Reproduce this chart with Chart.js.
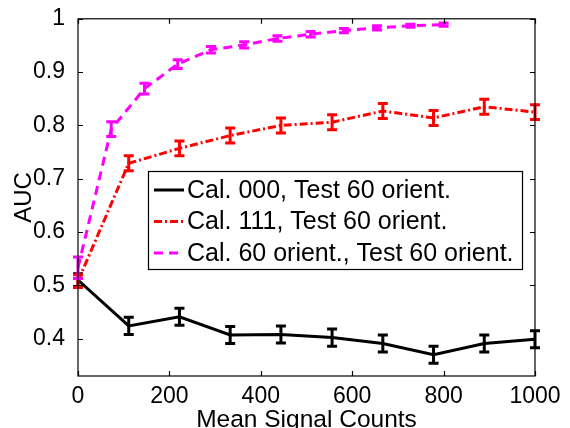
<!DOCTYPE html>
<html>
<head>
<meta charset="utf-8">
<script src="https://cdn.jsdelivr.net/npm/chart.js@4.4.1/dist/chart.umd.min.js"></script>
<style>
  html, body { margin: 0; padding: 0; background: #fff; }
  #wrap { width: 570px; height: 428px; position: relative; }
</style>
</head>
<body>
<div id="wrap"><canvas id="auc"></canvas></div>
<script>
// values
const legendLabels = [
  'Cal. 000, Test 60 orient.',
  'Cal. 111, Test 60 orient.',
  'Cal. 60 orient., Test 60 orient.'
];
const countsA = [0, 111, 222, 333, 444, 556, 667, 778, 889, 1000];
const aucCal000 = [0.51, 0.424, 0.441, 0.407, 0.408, 0.402, 0.391, 0.370, 0.391, 0.399];
const errCal000 = [0.012, 0.016, 0.016, 0.016, 0.016, 0.016, 0.016, 0.016, 0.016, 0.016];
const aucCal111 = [0.508, 0.729, 0.757, 0.781, 0.800, 0.806, 0.827, 0.814, 0.835, 0.825];
const errCal111 = [0.012, 0.014, 0.014, 0.014, 0.014, 0.014, 0.014, 0.014, 0.014, 0.014];
const countsB = [0, 72.7, 145.5, 218.2, 290.9, 363.6, 436.4, 509.1, 581.8, 654.5, 727.3, 800];
const aucCal60 = [0.533, 0.793, 0.869, 0.915, 0.942, 0.951, 0.963, 0.971, 0.978, 0.983, 0.987, 0.989];
const errCal60 = [0.02, 0.014, 0.01, 0.008, 0.006, 0.006, 0.005, 0.005, 0.004, 0.004, 0.003, 0.003];
const xTicks = [0, 200, 400, 600, 800, 1000];
const yTicks = [0.4, 0.5, 0.6, 0.7, 0.8, 0.9, 1];

const FONT = '"Liberation Sans", Arial, Helvetica, sans-serif';

function pts(xs, ys) {
  return xs.map((x, i) => ({ x: x, y: ys[i] }));
}

const errorBars = {
  id: 'errorBars',
  afterDatasetsDraw(chart) {
    const ctx = chart.ctx;
    const xs = chart.scales.x, ys = chart.scales.y;
    [...chart.data.datasets]
      .sort((a, b) => b.order - a.order)
      .forEach((ds) => {
        ctx.save();
        ctx.strokeStyle = ds.borderColor;
        ctx.lineWidth = 3;
        ctx.setLineDash([]);
        ds.data.forEach((p, j) => {
          const e = ds.errors[j];
          const px = xs.getPixelForValue(p.x);
          const y1 = ys.getPixelForValue(p.y - e);
          const y2 = ys.getPixelForValue(p.y + e);
          ctx.beginPath();
          ctx.moveTo(px, y1); ctx.lineTo(px, y2);
          ctx.moveTo(px - 5, y1); ctx.lineTo(px + 5, y1);
          ctx.moveTo(px - 5, y2); ctx.lineTo(px + 5, y2);
          ctx.stroke();
        });
        ctx.restore();
      });
  }
};

const frameAndLegend = {
  id: 'frameAndLegend',
  afterDraw(chart) {
    const ctx = chart.ctx;
    const a = chart.chartArea;
    const xs = chart.scales.x, ys = chart.scales.y;
    ctx.save();
    ctx.strokeStyle = '#000';
    ctx.lineWidth = 1.2;
    ctx.setLineDash([]);
    ctx.strokeRect(a.left, a.top, a.right - a.left, a.bottom - a.top);
    ctx.beginPath();
    xTicks.forEach((v) => {
      const px = Math.round(xs.getPixelForValue(v)) + 0.5;
      ctx.moveTo(px, a.bottom); ctx.lineTo(px, a.bottom - 5);
      ctx.moveTo(px, a.top); ctx.lineTo(px, a.top + 5);
    });
    yTicks.forEach((v) => {
      const py = Math.round(ys.getPixelForValue(v)) + 0.5;
      ctx.moveTo(a.left, py); ctx.lineTo(a.left + 5, py);
      ctx.moveTo(a.right, py); ctx.lineTo(a.right - 5, py);
    });
    ctx.stroke();

    // legend box
    const bx = 148, by = 171, bw = 374, bh = 98;
    ctx.fillStyle = '#fff';
    ctx.fillRect(bx, by, bw, bh);
    ctx.lineWidth = 1.2;
    ctx.strokeRect(bx + 0.5, by + 0.5, bw, bh);
    ctx.font = '25px ' + FONT;
    ctx.textBaseline = 'middle';
    chart.data.datasets.forEach((ds, i) => {
      const ry = by + 19 + i * 31.5;
      ctx.strokeStyle = ds.borderColor;
      ctx.lineWidth = 3;
      ctx.setLineDash(ds.borderDash || []);
      ctx.beginPath();
      ctx.moveTo(bx + 6, ry); ctx.lineTo(bx + 36, ry);
      ctx.stroke();
      ctx.setLineDash([]);
      ctx.fillStyle = '#000';
      ctx.fillText(legendLabels[i], bx + 39, ry + 1);
    });
    ctx.restore();
  }
};

new Chart(document.getElementById('auc'), {
  type: 'line',
  data: {
    datasets: [
      {
        label: legendLabels[0],
        data: pts(countsA, aucCal000),
        errors: errCal000,
        borderColor: '#000000',
        borderWidth: 3,
        order: 3
      },
      {
        label: legendLabels[1],
        data: pts(countsA, aucCal111),
        errors: errCal111,
        borderColor: '#ff0000',
        borderWidth: 3,
        borderDash: [8, 3, 2, 3],
        order: 2
      },
      {
        label: legendLabels[2],
        data: pts(countsB, aucCal60),
        errors: errCal60,
        borderColor: '#ff00ff',
        borderWidth: 3,
        borderDash: [9, 6],
        order: 1
      }
    ]
  },
  options: {
    responsive: true,
    maintainAspectRatio: false,
    animation: false,
    layout: { padding: { top: 16, right: 35, left: 0, bottom: 0 } },
    elements: { point: { radius: 0 }, line: { tension: 0 } },
    plugins: { legend: { display: false }, tooltip: { enabled: false } },
    scales: {
      x: {
        type: 'linear',
        min: 0,
        max: 1000,
        afterBuildTicks: (s) => { s.ticks = xTicks.map((v) => ({ value: v })); },
        afterFit: (s) => { s.height = 52; },
        grid: { display: false },
        border: { display: false },
        ticks: {
          color: '#000',
          font: { family: FONT, size: 23 },
          padding: -1,
          maxRotation: 0,
          callback: (v) => String(v)
        },
        title: {
          display: true,
          text: 'Mean Signal Counts',
          color: '#000',
          font: { family: FONT, size: 24.5 },
          padding: { top: 0, bottom: -7 }
        }
      },
      y: {
        min: 0.33,
        max: 1,
        afterBuildTicks: (s) => { s.ticks = yTicks.map((v) => ({ value: v })); },
        afterFit: (s) => { s.width = 78; },
        grid: { display: false },
        border: { display: false },
        ticks: {
          color: '#000',
          font: { family: FONT, size: 23 },
          padding: 5,
          callback: (v) => String(Number(v.toFixed(1)))
        },
        title: {
          display: true,
          text: 'AUC',
          color: '#000',
          font: { family: FONT, size: 24 },
          padding: { top: 10, bottom: 0 }
        }
      }
    }
  },
  plugins: [errorBars, frameAndLegend]
});
</script>
</body>
</html>
